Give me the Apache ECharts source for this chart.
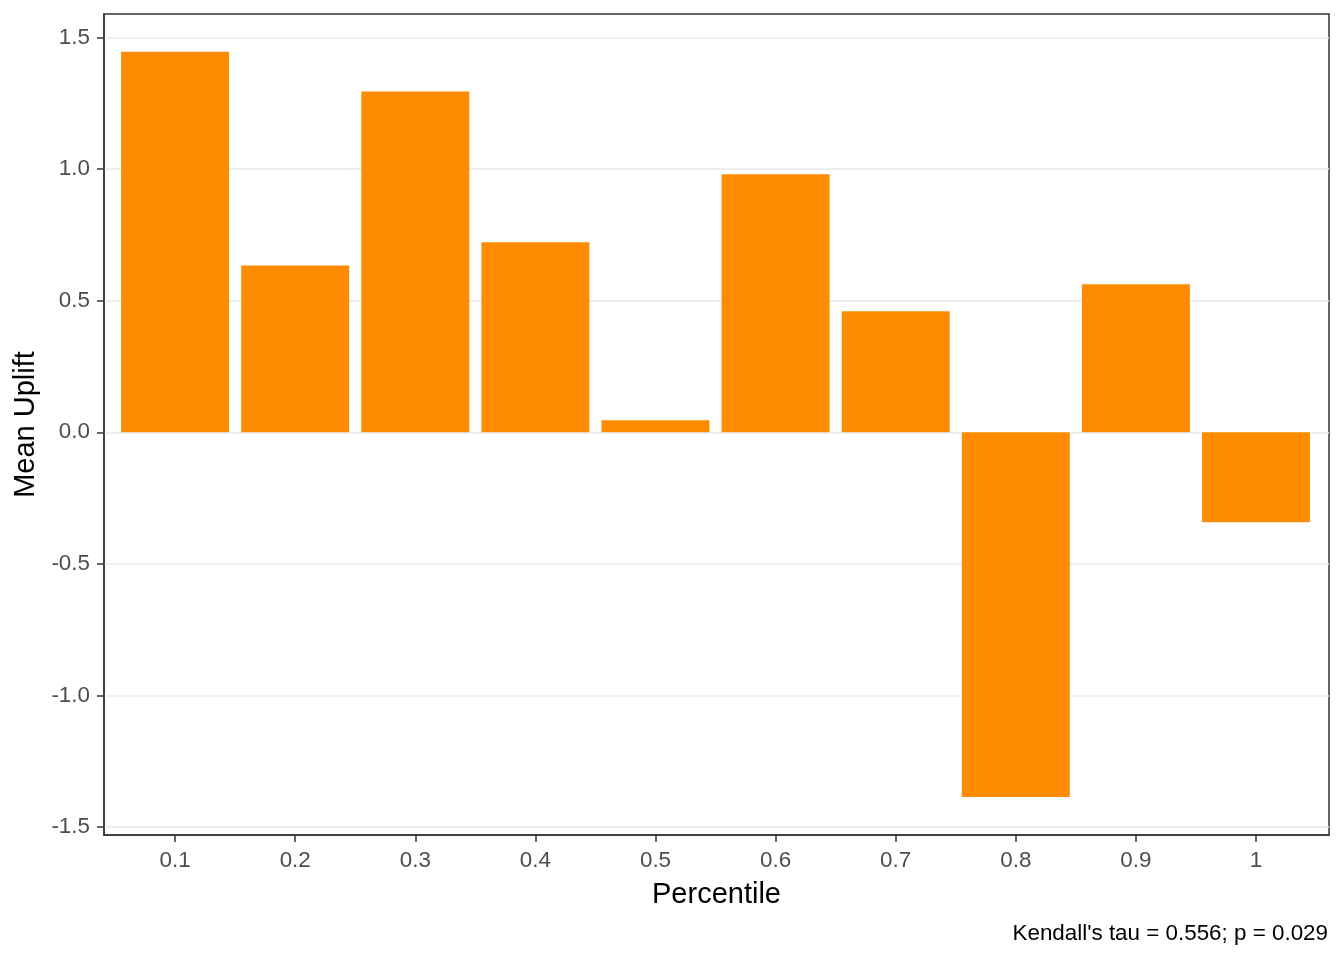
<!DOCTYPE html>
<html>
<head>
<meta charset="utf-8">
<script src="https://cdn.jsdelivr.net/npm/echarts@6/dist/echarts.min.js"></script>
<style>
html,body{margin:0;padding:0;background:#fff;}
#chart{width:1344px;height:960px;}
</style>
</head>
<body>
<div id="chart"></div>
<script>
const categories = ["0.1","0.2","0.3","0.4","0.5","0.6","0.7","0.8","0.9","1"];
const meanUplift = [1.446, 0.634, 1.295, 0.722, 0.046, 0.980, 0.460, -1.386, 0.562, -0.342];
const yTicks = [-1.5, -1.0, -0.5, 0.0, 0.5, 1.0, 1.5];
const captionText = "Kendall's tau = 0.556; p = 0.029";

const xPos = categories.map(Number);
const font = "'Liberation Sans', Arial, sans-serif";

const chart = echarts.init(document.getElementById('chart'));
chart.setOption({
  backgroundColor: '#fff',
  animation: false,
  title: {
    text: captionText,
    right: 11,
    top: 918,
    textStyle: {fontFamily: font, fontSize: 22.4, fontWeight: 'normal', color: '#000'}
  },
  grid: {
    left: 104, right: 15, top: 14, bottom: 125,
    show: true, borderColor: '#333333', borderWidth: 1.5, backgroundColor: 'transparent'
  },
  xAxis: {
    type: 'value',
    min: 0.0408, max: 1.0608,
    name: 'Percentile',
    nameLocation: 'middle',
    nameGap: 45,
    nameTextStyle: {fontFamily: font, fontSize: 29, color: '#000'},
    axisLine: {show: true, onZero: false, lineStyle: {color: '#333333', width: 1.5}},
    axisTick: {show: true, length: 7, lineStyle: {color: '#333333', width: 1.5}, customValues: xPos},
    axisLabel: {
      fontFamily: font, fontSize: 22.4, color: '#4d4d4d', margin: 15,
      customValues: xPos,
      formatter: v => String(Math.round(v * 10) / 10)
    },
    splitLine: {show: false}
  },
  yAxis: {
    type: 'value',
    min: -1.530, max: 1.589,
    name: 'Mean Uplift',
    nameLocation: 'middle',
    nameGap: 58,
    nameTextStyle: {fontFamily: font, fontSize: 29, color: '#000'},
    axisLine: {show: true, onZero: false, lineStyle: {color: '#333333', width: 1.5}},
    axisTick: {show: true, length: 7, lineStyle: {color: '#333333', width: 1.5}, customValues: yTicks},
    axisLabel: {
      fontFamily: font, fontSize: 22.4, color: '#4d4d4d', margin: 14,
      customValues: yTicks,
      padding: [2, 0, 0, 0],
      formatter: v => v.toFixed(1)
    },
    splitLine: {show: true, lineStyle: {color: '#ebebeb', width: 1.5}}
  },
  series: [{
    type: 'bar',
    data: xPos.map((x, i) => [x, meanUplift[i]]),
    barWidth: 108,
    itemStyle: {color: '#FF8C00'}
  }]
});
</script>
</body>
</html>
